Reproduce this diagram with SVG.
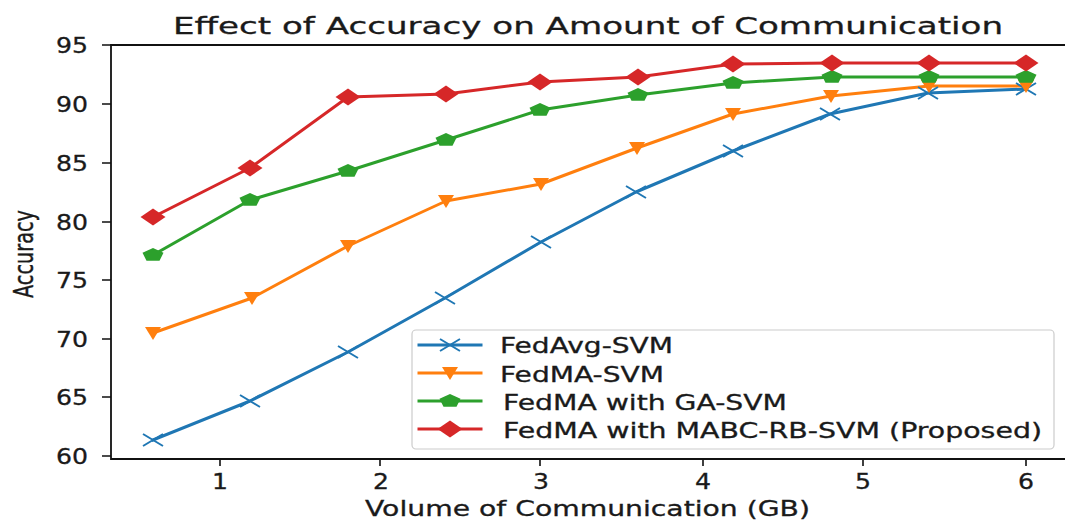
<svg xmlns="http://www.w3.org/2000/svg" xmlns:xlink="http://www.w3.org/1999/xlink" width="1065" height="520" viewBox="0 0 1065 520">
<style>
text{font-family:"DejaVu Sans","Liberation Sans",sans-serif;fill:#1a1a1a;stroke:#1a1a1a;stroke-width:0.3}
.tick{font-size:21px}
.lg{font-size:20.5px}
.spine{stroke:#111;stroke-width:1.8;fill:none}
.tk{stroke:#111;stroke-width:1.6}
.ln{fill:none;stroke-width:3;stroke-linejoin:round;stroke-linecap:square}
.b{stroke:#1f77b4}.o{stroke:#ff7f0e}.g{stroke:#2ca02c}.r{stroke:#d62728}
</style>
<defs>
<path id="mx" d="M-10,-6 L10,6 M-10,6 L10,-6" stroke="#1f77b4" stroke-width="2" fill="none"/>
<polygon id="mv" points="-8,-6 8,-6 0,7" fill="#ff7f0e"/>
<polygon id="mp" points="0,-7 10.5,-2.2 6.5,5.7 -6.5,5.7 -10.5,-2.2" fill="#2ca02c"/>
<polygon id="md" points="0,-8.5 12.5,0 0,8.5 -12.5,0" fill="#d62728"/>
</defs>
<rect width="1065" height="520" fill="#fff"/>
<g id="title"><text x="173" y="34" font-size="23" textLength="830" lengthAdjust="spacingAndGlyphs">Effect of Accuracy on Amount of Communication</text></g>
<g id="axes">
<path class="spine" d="M1065,45 H111 V459 H1065"/>
<g class="tk">
<path d="M102,45H111M102,104H111M102,163H111M102,222H111M102,280H111M102,339H111M102,397H111M102,456H111"/>
<path d="M220,459V466M380,459V466M540,459V466M703,459V466M863,459V466M1026,459V466"/>
</g>
<g class="tick" text-anchor="end">
<text x="88" y="53" textLength="32" lengthAdjust="spacingAndGlyphs">95</text>
<text x="88" y="112" textLength="32" lengthAdjust="spacingAndGlyphs">90</text>
<text x="88" y="171" textLength="32" lengthAdjust="spacingAndGlyphs">85</text>
<text x="88" y="230" textLength="32" lengthAdjust="spacingAndGlyphs">80</text>
<text x="88" y="288" textLength="32" lengthAdjust="spacingAndGlyphs">75</text>
<text x="88" y="347" textLength="32" lengthAdjust="spacingAndGlyphs">70</text>
<text x="88" y="405" textLength="32" lengthAdjust="spacingAndGlyphs">65</text>
<text x="88" y="464" textLength="32" lengthAdjust="spacingAndGlyphs">60</text>
</g>
<g class="tick" text-anchor="middle">
<text x="220" y="489" textLength="16" lengthAdjust="spacingAndGlyphs">1</text>
<text x="381" y="489" textLength="16" lengthAdjust="spacingAndGlyphs">2</text>
<text x="541" y="489" textLength="16" lengthAdjust="spacingAndGlyphs">3</text>
<text x="703" y="489" textLength="16" lengthAdjust="spacingAndGlyphs">4</text>
<text x="863" y="489" textLength="16" lengthAdjust="spacingAndGlyphs">5</text>
<text x="1026" y="489" textLength="16" lengthAdjust="spacingAndGlyphs">6</text>
</g>
<text x="365" y="516" font-size="21" textLength="445" lengthAdjust="spacingAndGlyphs">Volume of Communication (GB)</text>
<text transform="translate(33,254) scale(1.4,1) rotate(-90)" text-anchor="middle" font-size="19" textLength="88" lengthAdjust="spacingAndGlyphs">Accuracy</text>
</g>
<g id="connectors">
<polyline class="ln b" points="153,440 250,401 348,352 445,298 541,242 636,192 733,151 830,114 928,93 1026,89"/>
<polyline class="ln o" points="153,333 252,298 348,246 446,201 541,184 637,148 733,114 831,96 929,86 1026,86"/>
<polyline class="ln g" points="153,255 250,200 348,171 446,140 540,110 638,95 733,83 832,77 929,77 1026,77"/>
<polyline class="ln r" points="153,217 250,168 348,97 446,94 540,82 638,77 733,64 832,63 929,63 1026,63"/>
</g>
<g id="series-fedavg">
<use href="#mx" x="153" y="440"/><use href="#mx" x="250" y="401"/><use href="#mx" x="348" y="352"/><use href="#mx" x="445" y="298"/><use href="#mx" x="541" y="242"/><use href="#mx" x="636" y="192"/><use href="#mx" x="733" y="151"/><use href="#mx" x="830" y="114"/><use href="#mx" x="928" y="93"/><use href="#mx" x="1026" y="89"/>
</g>
<g id="series-fedma">
<use href="#mv" x="153" y="333"/><use href="#mv" x="252" y="298"/><use href="#mv" x="348" y="246"/><use href="#mv" x="446" y="201"/><use href="#mv" x="541" y="184"/><use href="#mv" x="637" y="148"/><use href="#mv" x="733" y="114"/><use href="#mv" x="831" y="96"/><use href="#mv" x="929" y="86"/><use href="#mv" x="1026" y="86"/>
</g>
<g id="series-ga">
<use href="#mp" x="153" y="255"/><use href="#mp" x="250" y="200"/><use href="#mp" x="348" y="171"/><use href="#mp" x="446" y="140"/><use href="#mp" x="540" y="110"/><use href="#mp" x="638" y="95"/><use href="#mp" x="733" y="83"/><use href="#mp" x="832" y="77"/><use href="#mp" x="929" y="77"/><use href="#mp" x="1026" y="77"/>
</g>
<g id="series-mabc">
<use href="#md" x="153" y="217"/><use href="#md" x="250" y="168"/><use href="#md" x="348" y="97"/><use href="#md" x="446" y="94"/><use href="#md" x="540" y="82"/><use href="#md" x="638" y="77"/><use href="#md" x="733" y="64"/><use href="#md" x="832" y="63"/><use href="#md" x="929" y="63"/><use href="#md" x="1026" y="63"/>
</g>
<g id="legend">
<rect x="412" y="330" width="642" height="119" rx="4" fill="#fff" fill-opacity="0.85" stroke="#cccccc" stroke-width="1.2"/>
<path class="ln b" d="M419,345H481"/><use href="#mx" x="450" y="345"/>
<path class="ln o" d="M419,373H481"/><use href="#mv" x="450" y="373"/>
<path class="ln g" d="M419,401H481"/><use href="#mp" x="450" y="401"/>
<path class="ln r" d="M419,429H481"/><use href="#md" x="450" y="429"/>
<g class="lg">
<text x="500" y="353" textLength="173" lengthAdjust="spacingAndGlyphs">FedAvg-SVM</text>
<text x="500" y="382" textLength="164" lengthAdjust="spacingAndGlyphs">FedMA-SVM</text>
<text x="503" y="410" textLength="284" lengthAdjust="spacingAndGlyphs">FedMA with GA-SVM</text>
<text x="503" y="438" textLength="539" lengthAdjust="spacingAndGlyphs">FedMA with MABC-RB-SVM (Proposed)</text>
</g>
</g>
</svg>
